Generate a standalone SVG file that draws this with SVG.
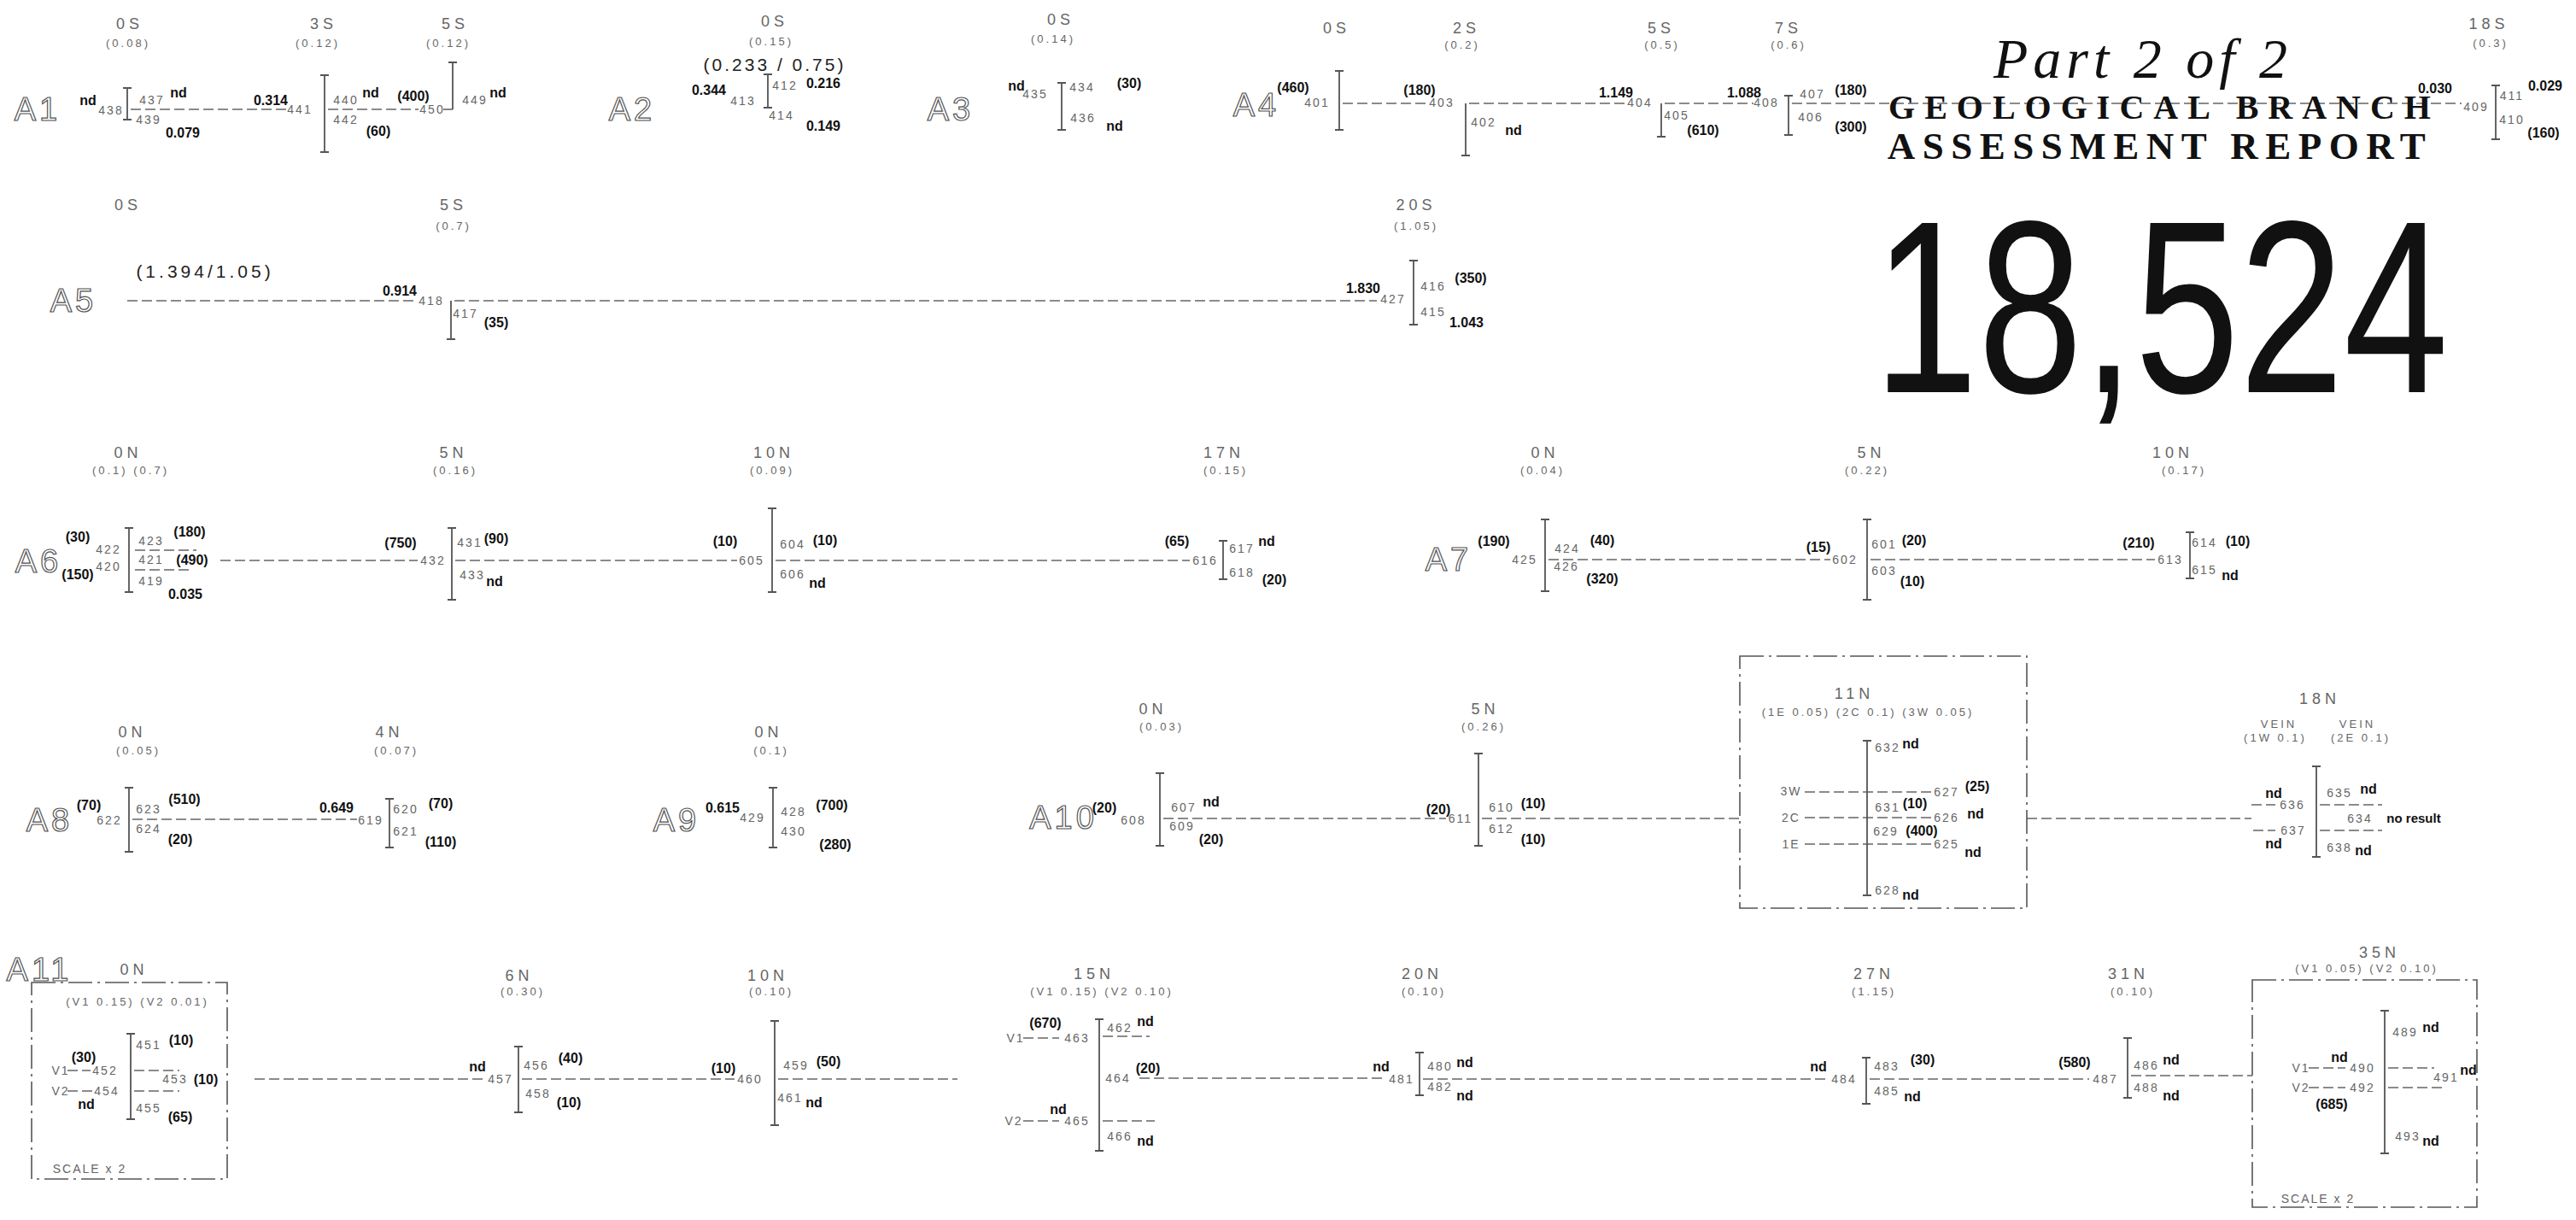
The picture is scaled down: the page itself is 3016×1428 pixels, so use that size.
<svg xmlns="http://www.w3.org/2000/svg" width="3016" height="1428" viewBox="0 0 3016 1428">
<style>
text{font-family:"Liberation Sans",Arial,sans-serif;dominant-baseline:central;text-anchor:middle}
.s{font-size:18px;fill:#666;letter-spacing:5px}
.v{font-size:13px;fill:#666;letter-spacing:3px}
.n{font-size:14px;fill:#666;letter-spacing:2px}
.b{font-size:16px;font-weight:bold;fill:#111}
.r{font-size:38px;fill:#fff;stroke:#555;stroke-width:1.2;letter-spacing:4px}
.q{font-size:21px;fill:#222;letter-spacing:3px}
.bar{stroke:#555;stroke-width:1.8;fill:none}
.box{stroke:#555;stroke-width:1.6;fill:none;stroke-dasharray:28 6 3 6}
#connectors line{stroke:#666;stroke-width:1.6;stroke-dasharray:12 5}
.t1{font-family:"Liberation Serif",serif;font-weight:bold;fill:#111}
</style>
<rect width="3016" height="1428" fill="#fff"/>

<g id="connectors">
<line x1="153" y1="128" x2="336" y2="128"/><line x1="384" y1="128" x2="490" y2="128"/><line x1="519" y1="128" x2="530" y2="128"/>
<line x1="1572" y1="121" x2="1672" y2="121"/><line x1="1720" y1="121" x2="1903" y2="121"/><line x1="1949" y1="121" x2="2053" y2="121"/><line x1="2098" y1="121" x2="2882" y2="121"/>
<line x1="149" y1="352" x2="488" y2="352"/><line x1="532" y1="352" x2="1612" y2="352"/>
<line x1="258" y1="656" x2="489" y2="656"/><line x1="533" y1="656" x2="863" y2="656"/><line x1="908" y1="656" x2="1393" y2="656"/>
<line x1="158" y1="644" x2="230" y2="644"/><line x1="158" y1="667" x2="225" y2="667"/>
<line x1="1813" y1="655" x2="2143" y2="655"/><line x1="2190" y1="655" x2="2523" y2="655"/>
<line x1="155" y1="959" x2="418" y2="959"/>
<line x1="1362" y1="958" x2="1693" y2="958"/><line x1="1735" y1="958" x2="2037" y2="958"/><line x1="2373" y1="958" x2="2636" y2="958"/>
<line x1="2113" y1="927" x2="2262" y2="927"/><line x1="2113" y1="957" x2="2262" y2="957"/><line x1="2113" y1="988" x2="2262" y2="988"/>
<line x1="2636" y1="942" x2="2664" y2="942"/><line x1="2716" y1="942" x2="2789" y2="942"/><line x1="2638" y1="972" x2="2664" y2="972"/><line x1="2716" y1="972" x2="2789" y2="972"/>
<line x1="298" y1="1263" x2="570" y2="1263"/><line x1="611" y1="1263" x2="860" y2="1263"/><line x1="911" y1="1263" x2="1121" y2="1263"/>
<line x1="1334" y1="1262" x2="1622" y2="1262"/><line x1="1666" y1="1263" x2="2140" y2="1263"/><line x1="2189" y1="1263" x2="2446" y2="1263"/><line x1="2495" y1="1259" x2="2637" y2="1259"/>
<line x1="79" y1="1253" x2="106" y2="1253"/><line x1="157" y1="1253" x2="210" y2="1253"/><line x1="79" y1="1277" x2="108" y2="1277"/><line x1="157" y1="1277" x2="210" y2="1277"/>
<line x1="1198" y1="1215" x2="1240" y2="1215"/><line x1="1291" y1="1213" x2="1346" y2="1213"/><line x1="1198" y1="1312" x2="1240" y2="1312"/><line x1="1291" y1="1312" x2="1352" y2="1312"/>
<line x1="2703" y1="1250" x2="2746" y2="1250"/><line x1="2796" y1="1250" x2="2850" y2="1250"/><line x1="2703" y1="1273" x2="2746" y2="1273"/><line x1="2796" y1="1273" x2="2864" y2="1273"/>
</g>

<g id="title">
<text x="2509" y="68" style="font-family:'Liberation Serif',serif;font-style:italic;font-size:66px;fill:#111;letter-spacing:6px">Part 2 of 2</text>
<text class="t1" x="2534" y="125" style="font-size:40px;letter-spacing:11px">GEOLOGICAL BRANCH</text>
<text class="t1" x="2529" y="171" style="font-size:45px;letter-spacing:8.5px">ASSESSMENT REPORT</text>
<text transform="translate(2530 359) scale(0.764 1)" style="font-size:288px;fill:#111">18,524</text>
</g>

<!-- Row A1 -->
<g id="A1"><text class="r" x="44" y="128">A1</text></g>
<g id="A1-0S">
<text class="s" x="152" y="28">0S</text><text class="v" x="150" y="50">(0.08)</text>
<path class="bar" d="M144 103h10M149 103V140M144 140h10"/>
<text class="b" x="103" y="117">nd</text><text class="n" x="130" y="129">438</text>
<text class="n" x="178" y="117">437</text><text class="b" x="209" y="108">nd</text>
<text class="n" x="174" y="140">439</text><text class="b" x="214" y="155">0.079</text>
</g>
<g id="A1-3S">
<text class="s" x="379" y="28">3S</text><text class="v" x="372" y="50">(0.12)</text>
<path class="bar" d="M375 88h10M380 88V178M375 178h10"/>
<text class="b" x="317" y="117">0.314</text><text class="n" x="351" y="128">441</text>
<text class="n" x="405" y="117">440</text><text class="b" x="434" y="108">nd</text>
<text class="n" x="405" y="140">442</text><text class="b" x="443" y="153">(60)</text>
</g>
<g id="A1-5S">
<text class="s" x="533" y="28">5S</text><text class="v" x="525" y="50">(0.12)</text>
<path class="bar" d="M525 73h10M530 73V128"/>
<text class="b" x="484" y="112">(400)</text><text class="n" x="506" y="128">450</text>
<text class="n" x="556" y="117">449</text><text class="b" x="583" y="108">nd</text>
</g>

<!-- Row A2 -->
<g id="A2"><text class="r" x="740" y="128">A2</text></g>
<g id="A2-0S">
<text class="s" x="907" y="25">0S</text><text class="v" x="903" y="48">(0.15)</text>
<text class="q" x="907" y="75">(0.233 / 0.75)</text>
<path class="bar" d="M894 87h10M899 87V126M894 126h10"/>
<text class="b" x="830" y="105">0.344</text><text class="n" x="870" y="118">413</text>
<text class="n" x="919" y="100">412</text><text class="b" x="964" y="97">0.216</text>
<text class="n" x="915" y="135">414</text><text class="b" x="964" y="147">0.149</text>
</g>

<!-- Row A3 -->
<g id="A3"><text class="r" x="1113" y="128">A3</text></g>
<g id="A3-0S">
<text class="s" x="1242" y="23">0S</text><text class="v" x="1233" y="45">(0.14)</text>
<path class="bar" d="M1238 97h10M1243 97V152M1238 152h10"/>
<text class="b" x="1190" y="100">nd</text><text class="n" x="1212" y="110">435</text>
<text class="n" x="1267" y="102">434</text><text class="b" x="1322" y="97">(30)</text>
<text class="n" x="1268" y="138">436</text><text class="b" x="1305" y="147">nd</text>
</g>

<!-- Row A4 -->
<g id="A4"><text class="r" x="1471" y="123">A4</text></g>
<g id="A4-0S">
<text class="s" x="1565" y="33">0S</text>
<path class="bar" d="M1563 83h10M1568 83V152M1563 152h10"/>
<text class="b" x="1514" y="102">(460)</text><text class="n" x="1542" y="120">401</text>
</g>
<g id="A4-2S">
<text class="s" x="1717" y="33">2S</text><text class="v" x="1712" y="52">(0.2)</text>
<path class="bar" d="M1716 121V182M1711 182h10"/>
<text class="b" x="1662" y="105">(180)</text><text class="n" x="1688" y="120">403</text>
<text class="n" x="1737" y="143">402</text><text class="b" x="1772" y="152">nd</text>
</g>
<g id="A4-5S">
<text class="s" x="1945" y="33">5S</text><text class="v" x="1946" y="52">(0.5)</text>
<path class="bar" d="M1945 121V160M1940 160h10"/>
<text class="b" x="1892" y="108">1.149</text><text class="n" x="1920" y="120">404</text>
<text class="n" x="1963" y="135">405</text><text class="b" x="1994" y="152">(610)</text>
</g>
<g id="A4-7S">
<text class="s" x="2094" y="33">7S</text><text class="v" x="2094" y="52">(0.6)</text>
<path class="bar" d="M2089 112h10M2094 112V158M2089 158h10"/>
<text class="b" x="2042" y="108">1.088</text><text class="n" x="2068" y="120">408</text>
<text class="n" x="2122" y="110">407</text><text class="b" x="2167" y="105">(180)</text>
<text class="n" x="2120" y="137">406</text><text class="b" x="2167" y="148">(300)</text>
</g>
<g id="A4-18S">
<text class="s" x="2914" y="28">18S</text><text class="v" x="2916" y="50">(0.3)</text>
<path class="bar" d="M2917 100h10M2922 100V163M2917 163h10"/>
<text class="b" x="2851" y="103">0.030</text><text class="n" x="2899" y="125">409</text>
<text class="n" x="2941" y="112">411</text><text class="b" x="2980" y="100">0.029</text>
<text class="n" x="2941" y="140">410</text><text class="b" x="2978" y="155">(160)</text>
</g>

<!-- Row A5 -->
<g id="A5"><text class="r" x="86" y="352">A5</text></g>
<g id="A5-0S">
<text class="s" x="150" y="240">0S</text>
<text class="q" x="240" y="317" style="letter-spacing:4px">(1.394/1.05)</text>
</g>
<g id="A5-5S">
<text class="s" x="531" y="240">5S</text><text class="v" x="531" y="264">(0.7)</text>
<path class="bar" d="M528 352V397M523 397h10"/>
<text class="b" x="468" y="340">0.914</text><text class="n" x="505" y="352">418</text>
<text class="n" x="545" y="367">417</text><text class="b" x="581" y="377">(35)</text>
</g>
<g id="A5-20S">
<text class="s" x="1658" y="240">20S</text><text class="v" x="1658" y="264">(1.05)</text>
<path class="bar" d="M1650 305h10M1655 305V380M1650 380h10"/>
<text class="b" x="1596" y="337">1.830</text><text class="n" x="1631" y="350">427</text>
<text class="n" x="1678" y="335">416</text><text class="b" x="1722" y="325">(350)</text>
<text class="n" x="1678" y="365">415</text><text class="b" x="1717" y="377">1.043</text>
</g>

<!-- Row A6 -->
<g id="A6"><text class="r" x="45" y="657">A6</text></g>
<g id="A6-0N">
<text class="s" x="150" y="530">0N</text><text class="v" x="153" y="550">(0.1) (0.7)</text>
<path class="bar" d="M146 618h10M151 618V693M146 693h10"/>
<text class="b" x="91" y="628">(30)</text><text class="n" x="127" y="643">422</text>
<text class="n" x="127" y="663">420</text><text class="b" x="91" y="672">(150)</text>
<text class="n" x="177" y="633">423</text><text class="b" x="222" y="622">(180)</text>
<text class="n" x="177" y="655">421</text><text class="b" x="225" y="655">(490)</text>
<text class="n" x="177" y="680">419</text><text class="b" x="217" y="695">0.035</text>
</g>
<g id="A6-5N">
<text class="s" x="531" y="530">5N</text><text class="v" x="533" y="550">(0.16)</text>
<path class="bar" d="M524 618h10M529 618V702M524 702h10"/>
<text class="b" x="469" y="635">(750)</text><text class="n" x="507" y="656">432</text>
<text class="n" x="550" y="635">431</text><text class="b" x="581" y="630">(90)</text>
<text class="n" x="553" y="673">433</text><text class="b" x="579" y="680">nd</text>
</g>
<g id="A6-10N">
<text class="s" x="906" y="530">10N</text><text class="v" x="904" y="550">(0.09)</text>
<path class="bar" d="M899 595h10M904 595V693M899 693h10"/>
<text class="b" x="849" y="633">(10)</text><text class="n" x="880" y="656">605</text>
<text class="n" x="928" y="637">604</text><text class="b" x="966" y="632">(10)</text>
<text class="n" x="928" y="672">606</text><text class="b" x="957" y="682">nd</text>
</g>
<g id="A6-17N">
<text class="s" x="1433" y="530">17N</text><text class="v" x="1435" y="550">(0.15)</text>
<path class="bar" d="M1427 633h10M1432 633V678M1427 678h10"/>
<text class="b" x="1378" y="633">(65)</text><text class="n" x="1411" y="656">616</text>
<text class="n" x="1454" y="642">617</text><text class="b" x="1483" y="633">nd</text>
<text class="n" x="1454" y="670">618</text><text class="b" x="1492" y="678">(20)</text>
</g>

<!-- Row A7 -->
<g id="A7"><text class="r" x="1696" y="655">A7</text></g>
<g id="A7-0N">
<text class="s" x="1809" y="530">0N</text><text class="v" x="1806" y="550">(0.04)</text>
<path class="bar" d="M1804 608h10M1809 608V692M1804 692h10"/>
<text class="b" x="1749" y="633">(190)</text><text class="n" x="1785" y="655">425</text>
<text class="n" x="1835" y="642">424</text><text class="b" x="1876" y="632">(40)</text>
<text class="n" x="1834" y="663">426</text><text class="b" x="1876" y="677">(320)</text>
</g>
<g id="A7-5N">
<text class="s" x="2191" y="530">5N</text><text class="v" x="2186" y="550">(0.22)</text>
<path class="bar" d="M2181 608h10M2186 608V702M2181 702h10"/>
<text class="b" x="2129" y="640">(15)</text><text class="n" x="2160" y="655">602</text>
<text class="n" x="2206" y="637">601</text><text class="b" x="2241" y="632">(20)</text>
<text class="n" x="2206" y="668">603</text><text class="b" x="2239" y="680">(10)</text>
</g>
<g id="A7-10N">
<text class="s" x="2544" y="530">10N</text><text class="v" x="2557" y="550">(0.17)</text>
<path class="bar" d="M2559 623h10M2564 623V677M2559 677h10"/>
<text class="b" x="2504" y="635">(210)</text><text class="n" x="2541" y="655">613</text>
<text class="n" x="2581" y="635">614</text><text class="b" x="2620" y="633">(10)</text>
<text class="n" x="2581" y="667">615</text><text class="b" x="2611" y="673">nd</text>
</g>

<!-- Row A8 -->
<g id="A8"><text class="r" x="58" y="960">A8</text></g>
<g id="A8-0N">
<text class="s" x="155" y="857">0N</text><text class="v" x="162" y="878">(0.05)</text>
<path class="bar" d="M146 922h10M151 922V997M146 997h10"/>
<text class="b" x="104" y="942">(70)</text><text class="n" x="128" y="960">622</text>
<text class="n" x="174" y="947">623</text><text class="b" x="216" y="935">(510)</text>
<text class="n" x="174" y="970">624</text><text class="b" x="211" y="982">(20)</text>
</g>
<g id="A8-4N">
<text class="s" x="456" y="857">4N</text><text class="v" x="464" y="878">(0.07)</text>
<path class="bar" d="M451 935h10M456 935V992M451 992h10"/>
<text class="b" x="394" y="945">0.649</text><text class="n" x="434" y="960">619</text>
<text class="n" x="475" y="947">620</text><text class="b" x="516" y="940">(70)</text>
<text class="n" x="475" y="973">621</text><text class="b" x="516" y="985">(110)</text>
</g>

<!-- Row A9 -->
<g id="A9"><text class="r" x="792" y="960">A9</text></g>
<g id="A9-0N">
<text class="s" x="900" y="857">0N</text><text class="v" x="903" y="878">(0.1)</text>
<path class="bar" d="M900 922h10M905 922V992M900 992h10"/>
<text class="b" x="846" y="945">0.615</text><text class="n" x="881" y="957">429</text>
<text class="n" x="929" y="950">428</text><text class="b" x="974" y="942">(700)</text>
<text class="n" x="929" y="973">430</text><text class="b" x="978" y="988">(280)</text>
</g>

<!-- Row A10 -->
<g id="A10"><text class="r" x="1245" y="957">A10</text></g>
<g id="A10-0N">
<text class="s" x="1350" y="830">0N</text><text class="v" x="1360" y="850">(0.03)</text>
<path class="bar" d="M1353 905h10M1358 905V990M1353 990h10"/>
<text class="b" x="1293" y="945">(20)</text><text class="n" x="1327" y="960">608</text>
<text class="n" x="1386" y="945">607</text><text class="b" x="1418" y="938">nd</text>
<text class="n" x="1384" y="967">609</text><text class="b" x="1418" y="982">(20)</text>
</g>
<g id="A10-5N">
<text class="s" x="1739" y="830">5N</text><text class="v" x="1737" y="850">(0.26)</text>
<path class="bar" d="M1726 882h10M1731 882V990M1726 990h10"/>
<text class="b" x="1684" y="947">(20)</text><text class="n" x="1710" y="958">611</text>
<text class="n" x="1758" y="945">610</text><text class="b" x="1795" y="940">(10)</text>
<text class="n" x="1758" y="970">612</text><text class="b" x="1795" y="982">(10)</text>
</g>
<g id="A10-11N">
<rect class="box" x="2037" y="768" width="336" height="295"/>
<text class="s" x="2171" y="812">11N</text>
<text class="v" x="2187" y="833">(1E 0.05) (2C 0.1) (3W 0.05)</text>
<path class="bar" d="M2181 867h10M2186 867V1048M2181 1048h10"/>
<text class="n" x="2210" y="875">632</text><text class="b" x="2237" y="870">nd</text>
<text class="n" x="2097" y="926">3W</text><text class="n" x="2279" y="927">627</text><text class="b" x="2315" y="920">(25)</text>
<text class="n" x="2210" y="945">631</text><text class="b" x="2242" y="940">(10)</text>
<text class="n" x="2097" y="957">2C</text><text class="n" x="2279" y="957">626</text><text class="b" x="2313" y="952">nd</text>
<text class="n" x="2208" y="973">629</text><text class="b" x="2250" y="972">(400)</text>
<text class="n" x="2097" y="988">1E</text><text class="n" x="2279" y="988">625</text><text class="b" x="2310" y="997">nd</text>
<text class="n" x="2210" y="1042">628</text><text class="b" x="2237" y="1047">nd</text>
</g>
<g id="A10-18N">
<text class="s" x="2716" y="818">18N</text>
<text class="v" x="2668" y="847">VEIN</text><text class="v" x="2664" y="863">(1W 0.1)</text>
<text class="v" x="2760" y="847">VEIN</text><text class="v" x="2764" y="863">(2E 0.1)</text>
<path class="bar" d="M2707 897h10M2712 897V1003M2707 1003h10"/>
<text class="b" x="2662" y="928">nd</text><text class="n" x="2684" y="942">636</text>
<text class="n" x="2739" y="928">635</text><text class="b" x="2773" y="923">nd</text>
<text class="n" x="2763" y="958">634</text><text class="b" x="2826" y="957" style="font-size:15px">no result</text>
<text class="n" x="2685" y="972">637</text><text class="b" x="2662" y="987">nd</text>
<text class="n" x="2739" y="992">638</text><text class="b" x="2767" y="995">nd</text>
</g>

<!-- Row A11 -->
<g id="A11"><text class="r" x="46" y="1135">A11</text></g>
<g id="A11-0N">
<text class="s" x="157" y="1135">0N</text>
<rect class="box" x="37" y="1150" width="229" height="230"/>
<text class="v" x="161" y="1172">(V1 0.15) (V2 0.01)</text>
<path class="bar" d="M148 1210h10M153 1210V1310M148 1310h10"/>
<text class="n" x="174" y="1223">451</text><text class="b" x="212" y="1217">(10)</text>
<text class="b" x="98" y="1237">(30)</text>
<text class="n" x="71" y="1253">V1</text><text class="n" x="123" y="1253">452</text>
<text class="n" x="205" y="1263">453</text><text class="b" x="241" y="1263">(10)</text>
<text class="n" x="71" y="1277">V2</text><text class="n" x="125" y="1277">454</text>
<text class="b" x="101" y="1292">nd</text>
<text class="n" x="174" y="1297">455</text><text class="b" x="211" y="1307">(65)</text>
<text class="n" x="105" y="1368">SCALE x 2</text>
</g>
<g id="A11-6N">
<text class="s" x="608" y="1142">6N</text><text class="v" x="612" y="1160">(0.30)</text>
<path class="bar" d="M602 1225h10M607 1225V1302M602 1302h10"/>
<text class="b" x="559" y="1248">nd</text><text class="n" x="586" y="1263">457</text>
<text class="n" x="628" y="1247">456</text><text class="b" x="668" y="1238">(40)</text>
<text class="n" x="630" y="1280">458</text><text class="b" x="666" y="1290">(10)</text>
</g>
<g id="A11-10N">
<text class="s" x="899" y="1142">10N</text><text class="v" x="903" y="1160">(0.10)</text>
<path class="bar" d="M902 1195h10M907 1195V1317M902 1317h10"/>
<text class="b" x="847" y="1250">(10)</text><text class="n" x="878" y="1263">460</text>
<text class="n" x="932" y="1247">459</text><text class="b" x="970" y="1242">(50)</text>
<text class="n" x="925" y="1285">461</text><text class="b" x="953" y="1290">nd</text>
</g>
<g id="A11-15N">
<text class="s" x="1281" y="1140">15N</text><text class="v" x="1290" y="1160">(V1 0.15) (V2 0.10)</text>
<path class="bar" d="M1282 1193h10M1287 1193V1347M1282 1347h10"/>
<text class="b" x="1224" y="1197">(670)</text>
<text class="n" x="1189" y="1215">V1</text><text class="n" x="1261" y="1215">463</text>
<text class="n" x="1311" y="1203">462</text><text class="b" x="1341" y="1195">nd</text>
<text class="n" x="1309" y="1262">464</text><text class="b" x="1344" y="1250">(20)</text>
<text class="b" x="1239" y="1298">nd</text>
<text class="n" x="1187" y="1312">V2</text><text class="n" x="1261" y="1312">465</text>
<text class="n" x="1311" y="1330">466</text><text class="b" x="1341" y="1335">nd</text>
</g>
<g id="A11-20N">
<text class="s" x="1665" y="1140">20N</text><text class="v" x="1667" y="1160">(0.10)</text>
<path class="bar" d="M1657 1232h10M1662 1232V1282M1657 1282h10"/>
<text class="b" x="1617" y="1248">nd</text><text class="n" x="1641" y="1263">481</text>
<text class="n" x="1686" y="1248">480</text><text class="b" x="1715" y="1243">nd</text>
<text class="n" x="1686" y="1272">482</text><text class="b" x="1715" y="1282">nd</text>
</g>
<g id="A11-27N">
<text class="s" x="2194" y="1140">27N</text><text class="v" x="2194" y="1160">(1.15)</text>
<path class="bar" d="M2180 1238h10M2185 1238V1292M2180 1292h10"/>
<text class="b" x="2129" y="1248">nd</text><text class="n" x="2159" y="1263">484</text>
<text class="n" x="2209" y="1248">483</text><text class="b" x="2251" y="1240">(30)</text>
<text class="n" x="2209" y="1277">485</text><text class="b" x="2239" y="1283">nd</text>
</g>
<g id="A11-31N">
<text class="s" x="2492" y="1140">31N</text><text class="v" x="2497" y="1160">(0.10)</text>
<path class="bar" d="M2486 1215h10M2491 1215V1285M2486 1285h10"/>
<text class="b" x="2429" y="1243">(580)</text><text class="n" x="2465" y="1263">487</text>
<text class="n" x="2513" y="1247">486</text><text class="b" x="2542" y="1240">nd</text>
<text class="n" x="2513" y="1273">488</text><text class="b" x="2542" y="1282">nd</text>
</g>
<g id="A11-35N">
<text class="s" x="2786" y="1115">35N</text><text class="v" x="2771" y="1133">(V1 0.05) (V2 0.10)</text>
<rect class="box" x="2637" y="1147" width="263" height="266"/>
<path class="bar" d="M2787 1183h10M2792 1183V1350M2787 1350h10"/>
<text class="n" x="2816" y="1208">489</text><text class="b" x="2846" y="1202">nd</text>
<text class="b" x="2739" y="1237">nd</text>
<text class="n" x="2694" y="1250">V1</text><text class="n" x="2766" y="1250">490</text>
<text class="n" x="2864" y="1261">491</text><text class="b" x="2890" y="1252">nd</text>
<text class="n" x="2694" y="1273">V2</text><text class="n" x="2766" y="1273">492</text>
<text class="b" x="2730" y="1292">(685)</text>
<text class="n" x="2819" y="1330">493</text><text class="b" x="2846" y="1335">nd</text>
<text class="n" x="2714" y="1403">SCALE x 2</text>
</g>
</svg>
